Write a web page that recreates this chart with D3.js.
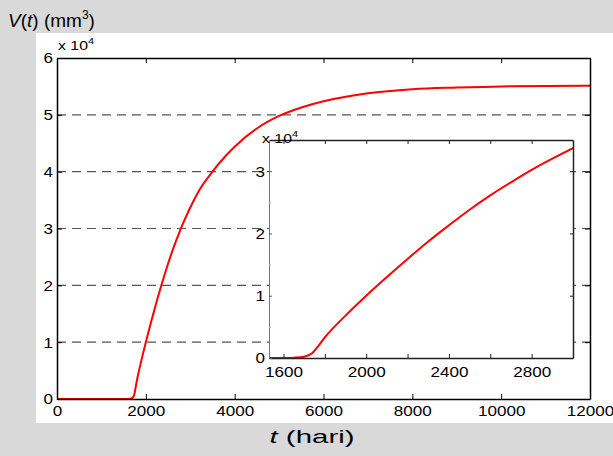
<!DOCTYPE html>
<html>
<head>
<meta charset="utf-8">
<script src="https://cdn.jsdelivr.net/npm/d3@7"></script>
<style>
  body { margin: 0; background: #d9d9d9; }
  svg text { font-family: "Liberation Sans", Arial, sans-serif; fill: #000; }
</style>
</head>
<body>
<div id="chart"></div>
<script>
// waktu t (hari) dan volume V(t) dalam satuan 1e4 mm^3
const tData = [0, 1500, 1600, 1650, 1700, 1740, 1770, 1800, 1900, 2000, 2100, 2200, 2300,
    2400, 2500, 2600, 2700, 2800, 2900, 3000, 3200, 3500, 3800, 4000, 4500, 5000, 5500,
    6000, 6500, 7000, 8000, 9000, 10000, 12000];
const vData = [0, 0, 0, 0.005, 0.02, 0.08, 0.2, 0.33, 0.68, 1.0, 1.3, 1.59, 1.87,
    2.13, 2.38, 2.61, 2.82, 3.02, 3.2, 3.37, 3.67, 4.0, 4.28, 4.44, 4.76, 4.98, 5.13,
    5.24, 5.32, 5.38, 5.45, 5.48, 5.5, 5.51];

const mainXTicks = [0, 2000, 4000, 6000, 8000, 10000, 12000];
const mainYTicks = [0, 1, 2, 3, 4, 5, 6];
const gridTicks = [1, 2, 3, 4, 5];
const insetXTicks = [1600, 2000, 2400, 2800];
const insetXMinor = [1800, 2200, 2600];
const insetYTicks = [0, 1, 2, 3];
const insetYMinor = [0.5, 1.5, 2.5];

const W = 613, H = 456;
const FS = 14;
const SX = 1.22; // tick labels look stretched horizontally

const svg = d3.select("#chart").append("svg")
    .attr("width", W)
    .attr("height", H);

// white figure area
svg.append("rect")
    .attr("x", 36).attr("y", 33)
    .attr("width", W - 36).attr("height", 390)
    .attr("fill", "#fff");

const points = tData.map((t, i) => ({ t: t, v: vData[i] }));

drawMain();
drawInset();
drawLabels();

function stretch(sel, sx) {
    sel.attr("transform", function () {
        const x = +d3.select(this).attr("x") || 0;
        const y = +d3.select(this).attr("y") || 0;
        return `translate(${x},${y}) scale(${sx || SX},1)`;
    }).attr("x", 0).attr("y", 0);
}

function drawMain() {
    const x = d3.scaleLinear().domain([0, 12000]).range([57, 590]);
    const y = d3.scaleLinear().domain([0, 6]).range([399, 58]);

    // garis putus-putus
    svg.append("g").selectAll("line")
        .data(gridTicks)
        .join("line")
        .attr("x1", x(0)).attr("x2", x(12000))
        .attr("y1", d => y(d)).attr("y2", d => y(d))
        .attr("stroke", "#555")
        .attr("stroke-width", 1.2)
        .attr("stroke-dasharray", "9,6");

    const line = d3.line().x(d => x(d.t)).y(d => y(d.v)).curve(d3.curveMonotoneX);
    svg.append("path")
        .datum(points)
        .attr("d", line)
        .attr("fill", "none")
        .attr("stroke", "#ff0000")
        .attr("stroke-width", 2);

    // sumbu, tick ke dalam
    const gx = svg.append("g")
        .attr("transform", `translate(0,${y(0)})`)
        .call(d3.axisBottom(x).tickValues(mainXTicks).tickFormat(d3.format("d"))
            .tickSizeInner(-5).tickSizeOuter(0));
    const gxt = svg.append("g")
        .attr("transform", `translate(0,${y(6)})`)
        .call(d3.axisTop(x).tickValues(mainXTicks).tickFormat("")
            .tickSizeInner(-5).tickSizeOuter(0));
    const gy = svg.append("g")
        .attr("transform", `translate(${x(0)},0)`)
        .call(d3.axisLeft(y).tickValues(mainYTicks).tickFormat(d3.format("d"))
            .tickSizeInner(-5).tickSizeOuter(0));
    const gyr = svg.append("g")
        .attr("transform", `translate(${x(12000)},0)`)
        .call(d3.axisRight(y).tickValues(mainYTicks).tickFormat("")
            .tickSizeInner(-5).tickSizeOuter(0));

    [gx, gxt, gy, gyr].forEach(g => {
        g.select(".domain").attr("stroke", "#000").attr("stroke-width", 1.5);
        g.selectAll(".tick line").attr("stroke", "#000");
        g.selectAll("text").attr("font-size", FS).attr("fill", "#000");
    });
    gx.selectAll(".tick text").attr("y", 7);
    gy.selectAll(".tick text").attr("x", -4).attr("dy", "0.35em");
    stretch(gx.selectAll(".tick text"));
    stretch(gy.selectAll(".tick text"));

    const ex = svg.append("text")
        .attr("x", 58).attr("y", 50)
        .attr("font-size", 13);
    ex.append("tspan").text("x 10");
    ex.append("tspan").attr("dy", -6).attr("font-size", 9).text("4");
    stretch(ex);
}

function drawInset() {
    const x = d3.scaleLinear().domain([1530, 3000]).range([269, 573]);
    const y = d3.scaleLinear().domain([0, 3.5]).range([358, 140]);

    svg.append("rect")
        .attr("x", x(1530)).attr("y", y(3.5))
        .attr("width", x(3000) - x(1530))
        .attr("height", y(0) - y(3.5))
        .attr("fill", "#fff");

    svg.append("defs").append("clipPath").attr("id", "inset-clip")
        .append("rect")
        .attr("x", x(1530)).attr("y", y(3.5))
        .attr("width", x(3000) - x(1530))
        .attr("height", y(0) - y(3.5));

    const line = d3.line().x(d => x(d.t)).y(d => y(d.v)).curve(d3.curveMonotoneX);
    svg.append("path")
        .datum(points.filter(d => d.t >= 1500 && d.t <= 3200))
        .attr("d", line)
        .attr("clip-path", "url(#inset-clip)")
        .attr("fill", "none")
        .attr("stroke", "#ff0000")
        .attr("stroke-width", 2);

    const gx = svg.append("g")
        .attr("transform", `translate(0,${y(0)})`)
        .call(d3.axisBottom(x).tickValues(insetXTicks.concat(insetXMinor)).tickFormat(d => insetXTicks.includes(d) ? d : "")
            .tickSizeInner(-4).tickSizeOuter(0));
    const gxt = svg.append("g")
        .attr("transform", `translate(0,${y(3.5)})`)
        .call(d3.axisTop(x).tickValues(insetXTicks.concat(insetXMinor)).tickFormat("")
            .tickSizeInner(-4).tickSizeOuter(0));
    const gy = svg.append("g")
        .attr("transform", `translate(${x(1530)},0)`)
        .call(d3.axisLeft(y).tickValues(insetYTicks).tickFormat(d3.format("d"))
            .tickSizeInner(-3).tickSizeOuter(0));
    const gyMinor = svg.append("g")
        .attr("transform", `translate(${x(1530)},0)`)
        .call(d3.axisLeft(y).tickValues(insetYMinor).tickFormat("")
            .tickSizeInner(-2).tickSizeOuter(0));
    const gyr = svg.append("g")
        .attr("transform", `translate(${x(3000)},0)`)
        .call(d3.axisRight(y).tickValues(insetYTicks).tickFormat("")
            .tickSizeInner(-3).tickSizeOuter(0));

    [gx, gxt, gyr].forEach(g => {
        g.select(".domain").attr("stroke", "#222").attr("stroke-width", 1.5);
        g.selectAll(".tick line").attr("stroke", "#222");
    });
    gy.select(".domain").attr("stroke", "#777").attr("stroke-width", 1);
    gy.selectAll(".tick line").attr("stroke", "#555");
    gyMinor.select(".domain").remove();
    gyMinor.selectAll(".tick line").attr("stroke", "#bbb");
    [gx, gy].forEach(g => g.selectAll("text").attr("font-size", FS).attr("fill", "#000"));
    gx.selectAll(".tick text").attr("y", 9);
    gy.selectAll(".tick text").attr("x", -4).attr("dy", "0.35em");
    stretch(gx.selectAll(".tick text"));
    stretch(gy.selectAll(".tick text"));

    const ex = svg.append("text")
        .attr("x", 262).attr("y", 143)
        .attr("font-size", 13);
    ex.append("tspan").text("x 10");
    ex.append("tspan").attr("dy", -6).attr("font-size", 9).text("4");
    stretch(ex);
}

function drawLabels() {
    const yl = svg.append("text")
        .attr("x", 8).attr("y", 27)
        .attr("font-size", 19);
    yl.append("tspan").attr("font-style", "italic").text("V");
    yl.append("tspan").text("(");
    yl.append("tspan").attr("font-style", "italic").text("t");
    yl.append("tspan").text(") (mm");
    yl.append("tspan").attr("dy", -8).attr("font-size", 12).text("3");
    yl.append("tspan").attr("dy", 8).text(")");

    const xl = svg.append("text")
        .attr("x", 312).attr("y", 443)
        .attr("text-anchor", "middle")
        .attr("font-size", 19);
    xl.append("tspan").attr("font-style", "italic").text("t");
    xl.append("tspan").text(" (hari)");
    stretch(xl, 1.55);
}
</script>
</body>
</html>
